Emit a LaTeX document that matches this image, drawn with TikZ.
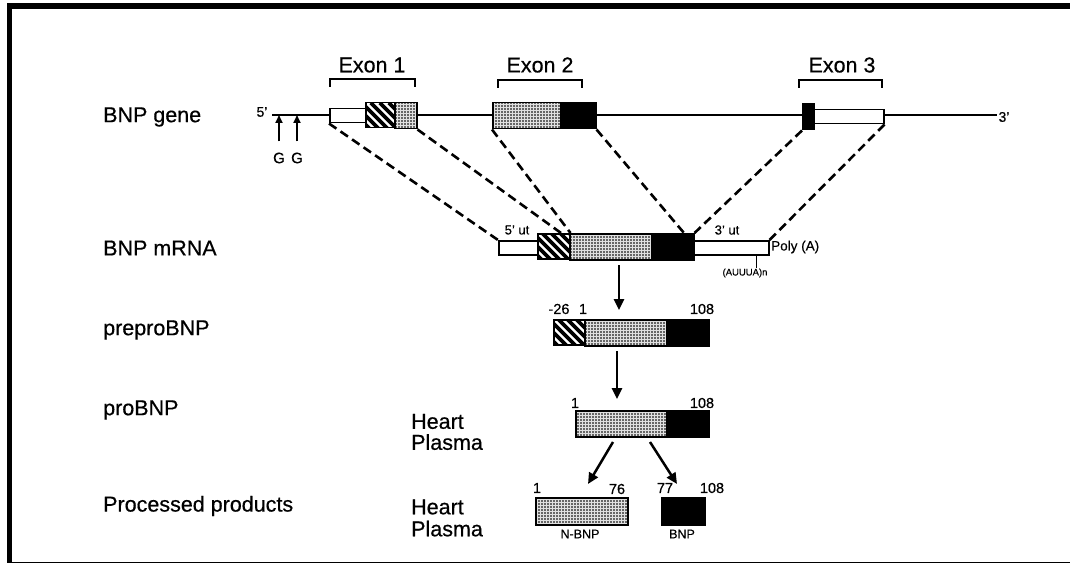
\documentclass[tikz,border=0pt]{standalone}
\usepackage{fontspec}
\setmainfont{Liberation Sans}[FakeBold=0.5]
\usetikzlibrary{arrows.meta,calc}
\begin{document}
\begin{tikzpicture}[x=1pt,y=-1pt,
  lab/.style={font=\fontsize{21.5}{24}\selectfont, anchor=west, inner sep=0pt},
  sm/.style={font=\fontsize{13}{15}\selectfont, inner sep=0pt},
  seg/.style={draw=black, line width=1.5pt, inner sep=0pt, anchor=north west, minimum width=#1},
  wht/.style={fill=white, minimum height=14pt},
  blk/.style={fill=black, minimum height=26pt},
  stip/.style={minimum height=26pt, path picture={
      \fill[black!60] (path picture bounding box.south west) rectangle (path picture bounding box.north east);
      \draw[black!12, line width=0.4pt, step=3pt] (path picture bounding box.south west) grid (path picture bounding box.north east);}},
  hatchbox/.style={minimum height=25pt, fill=white, path picture={
      \foreach \i in {-40,-31,...,50}
        \draw[line width=3.8pt] ([xshift=\i pt]path picture bounding box.north west) -- ++(40pt,-40pt);}},
  dashcon/.style={line width=2.6pt, dash pattern=on 9pt off 5pt},
  arr/.style={line width=2.5pt, -{Triangle[length=11pt,width=10pt]}},
  garr/.style={line width=1.7pt, -{Triangle[length=8pt,width=7pt]}},
  brk/.style={line width=1.4pt}
]
\useasboundingbox (0,0) rectangle (1070,564);
% frame
\fill (7,3) rectangle (1070,9);
\fill (7,3) rectangle (12,563);
\draw[line width=1.2pt] (7,562.5) -- (1070,562.5);

% left labels
\node[lab] (lgene) at (103,117) {BNP gene};
\node[lab] (lmrna) at (103,248) {BNP mRNA};
\node[lab] (lprepro) at (103,330) {preproBNP};
\node[lab] (lpro) at (103,410) {proBNP};
\node[lab] (lproc) at (103,506) {Processed products};
\node[lab, align=left, font=\fontsize{21.5}{21}\selectfont] (hp1) at (411,432) {Heart\\Plasma};
\node[lab, align=left, font=\fontsize{21.5}{22}\selectfont] (hp2) at (411,518) {Heart\\Plasma};

% gene line
\node[sm, font=\fontsize{14}{16}\selectfont] (five) at (262,112) {5'};
\node[sm, font=\fontsize{14}{16}\selectfont] (three) at (1004,117) {3'};
\draw[line width=1.3pt] (272,115) -- (997,115);

% exon 1
\node[seg=36pt, wht] (e1u) at (329,108) {};
\node[seg=29pt, hatchbox] (e1h) at (365,102) {};
\node[seg=22pt, stip] (e1s) at (394,102) {};
% exon 2
\node[seg=68pt, stip] (e2s) at (492,102) {};
\node[seg=35pt, blk] (e2b) at (560,102) {};
% exon 3
\node[seg=11pt, blk] (e3b) at (802,103) {};
\node[seg=70pt, wht] (e3u) at (813,109) {};

% brackets and exon labels
\draw[brk] (330,87) -- (330,79) -- (415,79) -- (415,87);
\draw[brk] (498,88) -- (498,80) -- (582,80) -- (582,88);
\draw[brk] (799,88) -- (799,80) -- (882,80) -- (882,88);
\node[font=\fontsize{21.5}{24}\selectfont, inner sep=0pt] (x1) at (372,65) {Exon 1};
\node[font=\fontsize{21.5}{24}\selectfont, inner sep=0pt] (x2) at (540,65) {Exon 2};
\node[font=\fontsize{21.5}{24}\selectfont, inner sep=0pt] (x3) at (842,65) {Exon 3};

% G arrows
\node[font=\fontsize{15}{17}\selectfont, inner sep=0pt] (g1) at (279,158) {G};
\node[font=\fontsize{15}{17}\selectfont, inner sep=0pt] (g2) at (297,158) {G};
\coordinate (g1t) at (279,115);
\coordinate (g2t) at (297,115);
\draw[garr] ([yshift=11pt]g1.north) -- (g1t);
\draw[garr] ([yshift=11pt]g2.north) -- (g2t);

% mRNA
\node[seg=39pt, wht] (m5) at (498,240) {};
\node[seg=32pt, hatchbox] (mh) at (537,233) {};
\node[seg=82pt, stip] (ms) at (569,233) {};
\node[seg=42pt, blk] (mb) at (651,233) {};
\node[seg=75pt, wht] (m3) at (693,240) {};
\node[sm] (ut5) at (517,230) {5' ut};
\node[sm] (ut3) at (727,230) {3' ut};
\node[sm, anchor=west, font=\fontsize{13.5}{15}\selectfont] (poly) at (771,247) {Poly (A)};
\coordinate (tk) at (756,254);
\node[font=\fontsize{9.5}{10}\selectfont, inner sep=0pt] (auuua) at (745,273) {(AUUUA)n};
\draw[line width=1pt] (tk) -- (auuua.north -| tk);

% dashed connectors
\coordinate (j1) at (561,233);
\coordinate (j3) at (684,233);
\draw[dashcon] (e1u.south west) -- (m5.north west);
\draw[dashcon] (e1s.south east) -- (j1);
\draw[dashcon] (e2s.south west) -- (mh.north east);
\draw[dashcon] (e2b.south east) -- (j3);
\draw[dashcon] (e3b.south west) -- (mb.north east);
\draw[dashcon] (e3u.south east) -- (m3.north east);

% preproBNP
\node[seg=31pt, hatchbox] (ph) at (553,319) {};
\node[seg=82pt, stip] (ps) at (584,319) {};
\node[seg=42pt, blk] (pb) at (666,319) {};
\node[sm, font=\fontsize{14.5}{16}\selectfont] (n26) at (559,309) {-26};
\node[sm, font=\fontsize{14.5}{16}\selectfont] (n1a) at (583,309) {1};
\node[sm, font=\fontsize{14.5}{16}\selectfont] (n108a) at (702,309) {108};
\coordinate (a1s) at (619,265);
\coordinate (a1e) at (619,310);
\draw[arr] (a1s) -- (a1e);

% proBNP
\node[seg=91pt, stip] (rs) at (575,410) {};
\node[seg=42pt, blk] (rb) at (666,410) {};
\node[sm, font=\fontsize{14.5}{16}\selectfont] (n1b) at (575,403) {1};
\node[sm, font=\fontsize{14.5}{16}\selectfont] (n108b) at (702,403) {108};
\coordinate (a2s) at (617,351);
\coordinate (a2e) at (617,399);
\draw[arr] (a2s) -- (a2e);

% processed
\node[seg=92pt, stip, minimum height=27pt] (ns) at (535,497) {};
\node[seg=43pt, blk, minimum height=27pt] (bb) at (661,497) {};
\node[sm, font=\fontsize{14.5}{16}\selectfont] (n1c) at (537,488) {1};
\node[sm, font=\fontsize{14.5}{16}\selectfont] (n76) at (617,489) {76};
\node[sm, font=\fontsize{14.5}{16}\selectfont] (n77) at (665,488) {77};
\node[sm, font=\fontsize{14.5}{16}\selectfont] (n108c) at (712,488) {108};
\node[sm, font=\fontsize{12.5}{14}\selectfont] (nbnp) at (580,534) {N-BNP};
\node[sm, font=\fontsize{12.5}{14}\selectfont] (bnp) at (682,534) {BNP};
\coordinate (a3s) at (613,442);
\coordinate (a3e) at (588,484);
\coordinate (a4s) at (650,442);
\coordinate (a4e) at (677,484);
\draw[arr] (a3s) -- (a3e);
\draw[arr] (a4s) -- (a4e);
\end{tikzpicture}
\end{document}
